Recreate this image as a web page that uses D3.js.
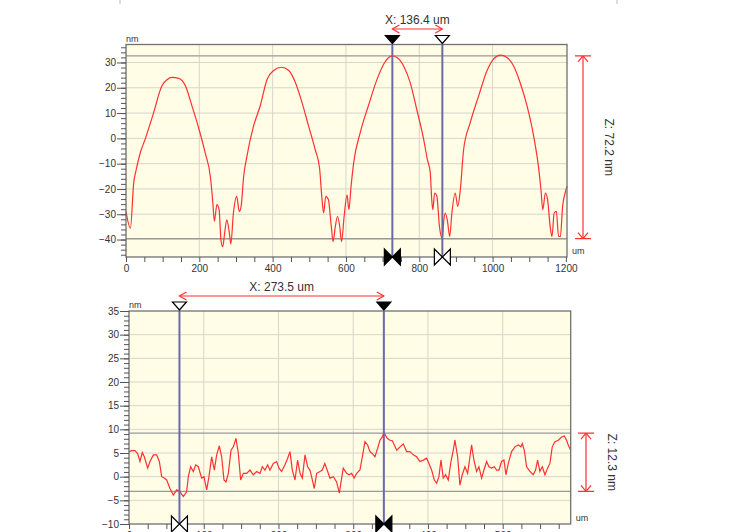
<!DOCTYPE html>
<html>
<head>
<meta charset="utf-8">
<script src="https://cdn.jsdelivr.net/npm/d3@7"></script>
<style>
  body { margin: 0; background: #fff; }
  svg { font-family: Arial, "Liberation Sans", sans-serif; }
  .axis path, .axis line { stroke: #555; }
  .axis text { fill: #333; font-size: 10px; }
</style>
</head>
<body>
<div id="chart"></div>
<script>
// top profile (um, nm)
var topX = [0, 12, 21, 28, 39, 53, 75, 98, 112, 125, 144, 162, 180, 198, 216, 230, 237, 241, 248, 254,
  259, 264, 269, 275, 282, 286, 293, 302, 309, 314, 321, 330, 348, 366, 385, 403, 424, 444, 462, 480,
  498, 516, 528, 534, 539, 545, 552, 560, 565, 571, 577, 583, 588, 595, 603, 608, 614, 621, 639, 661,
  685, 706, 726, 739, 757, 775, 793, 812, 822, 830, 834, 837, 842, 848, 855, 863, 867, 871, 877, 883,
  889, 898, 905, 912, 921, 939, 962, 985, 1003, 1021, 1039, 1057, 1075, 1094, 1112, 1125, 1132, 1137, 1144, 1150,
  1157, 1162, 1168, 1174, 1180, 1185, 1191, 1198, 1203];
var topZ = [-28.9, -35.5, -17.6, -12.3, -5.7, 0, 10, 20.8, 23.2, 24.1, 23.7, 20.8, 12.8, 4.2, -5.7, -15, -25.6, -32.8, -26.2, -28.2,
  -40.1, -42.8, -37.5, -32.2, -37.5, -41.7, -29.5, -22.9, -28.9, -26.9, -15, -7, 4.9, 12.8, 23.4, 26.8, 28.1, 26.8, 22.1, 14.2,
  4.9, -4.4, -11.7, -22.9, -29.5, -22.9, -24.2, -34.8, -40.8, -34.8, -30.9, -34.8, -40.8, -30.9, -22.3, -28.2, -18.9, -9.7, 2.3, 12.8,
  23.4, 30.1, 32.6, 32, 28.7, 22.1, 11.5, -0.4, -8.3, -13.6, -24.2, -28.2, -21.6, -22.9, -34.8, -39.6, -32.2, -29.5, -32.8, -38.8,
  -29.5, -21.6, -26.9, -20.3, -4.4, 6.2, 16.8, 26.8, 31.4, 32.9, 32, 28.7, 22.1, 12.8, 0.9, -11, -20.3, -28.2, -21.6, -24.2,
  -34.8, -38.8, -29.5, -28.9, -38.8, -38.8, -26.9, -21.6, -18.9];

// bottom profile (um, nm)
var botX = [0, 3.6, 8.0, 11.6, 14.7, 17.8, 20.5, 25.0, 28.1, 32.6, 37.0, 40.6, 43.7, 47.3, 50.4, 54.8, 59.3, 63.8, 68.2, 72.7,
  77.1, 79.4, 82.5, 86.1, 89.2, 92.8, 97.2, 100.3, 103.9, 107.0, 110.6, 114.2, 117.3, 120.8, 124.0, 127.1, 129.8, 132.9, 136.5, 139.6,
  143.1, 146.3, 149.4, 153.0, 157.4, 161.9, 166.3, 170.8, 175.3, 178.4, 181.9, 185.5, 188.6, 193.1, 197.5, 200.7, 204.2, 208.7, 212.3, 215.4,
  218.5, 222.1, 225.6, 228.8, 231.9, 235.5, 239.0, 242.1, 245.3, 247.9, 251.1, 255.5, 258.6, 262.0, 265.8, 268.9, 273.4, 277.8, 281.4, 284.5,
  286.7, 291.2, 294.3, 297.9, 301.4, 304.6, 309.0, 312.2, 315.7, 319.3, 322.4, 325.5, 329.1, 332.7, 335.8, 338.9, 341.0, 345.6, 349.2, 352.3,
  355.0, 358.2, 362.6, 367.0, 371.5, 375.9, 380.4, 384.8, 389.3, 393.8, 398.2, 401.3, 404.9, 408.5, 411.6, 414.7, 417.4, 420.5, 423.6, 427.2,
  430.8, 433.9, 436.1, 439.7, 442.8, 445.9, 449.5, 453.1, 456.2, 458.4, 461.5, 465.1, 468.2, 471.8, 474.9, 478.5, 481.6, 485.2, 488.7, 491.9,
  495.0, 498.5, 501.7, 504.3, 507.5, 511.9, 516.4, 520.8, 524.4, 526.2, 528.9, 532.0, 536.5, 540.9, 544.0, 546.7, 549.8, 553.0, 556.5, 560.1,
  563.2, 566.3, 569.9, 574.4, 578.8, 582.4, 585.5, 587.7, 591];
var botZ = [5.3, 5.5, 5.5, 4.9, 3.2, 5.1, 4.2, 1.8, 3.2, 4.6, 4.6, 3.2, 0, -0.3, -0.7, -2.5, -3.9, -2.8, -3.2, -4.2,
  -3.2, 0, 2.1, 1.1, 2.5, 2.1, -0.3, 0, -2.8, 0, 4.2, 1.4, 4.6, 6.5, 4.2, -0.7, -1.1, 0.7, 5.6, 6.3,
  8.1, 4.9, -0.7, 0.7, 0.7, 1.4, 0.4, 1.1, 0.7, 2.1, 1.4, 2.5, 1.4, 2.8, 3.2, 1.8, 1.1, 2.5, 3.9, 5.3,
  1.4, -0.7, 3.5, 0.7, -0.3, 4.6, 2.1, 1.4, -0.7, -2.5, 0.7, 1.1, 1.4, 2.8, 1.1, -0.3, 0, -1.1, -3.5, -0.3,
  1.8, 0.7, 0.4, 0.7, -0.3, 0.7, 1.4, 4.2, 7.4, 6.7, 5.3, 4.9, 4.2, 6.0, 7.7, 8.4, 9.3, 8.1, 7.7, 7.6,
  6.7, 5.6, 6.3, 6.9, 5.3, 5.3, 4.6, 4.2, 3.2, 3.5, 3.9, 2.8, 1.4, -0.7, -1.4, 0, 3.5, -0.3, 0.4, -0.7,
  3.2, 5.6, 7.7, 4.2, -1.8, 0.4, 2.1, 0.7, 4.2, 6.7, 3.5, 1.1, 2.1, -0.3, 1.4, 3.2, 2.1, 1.8, 2.1, 1.4,
  1.4, 3.2, 3.5, 0.4, 2.8, 5.3, 6.3, 6.7, 6.3, 7.0, 5.6, 2.1, 1.1, 0.4, 1.4, 3.5, 1.1, 2.1, 0.4, 1.8,
  2.8, 6.3, 7.4, 7.7, 8.4, 8.6, 7.7, 6.7, 5.6];

// cursors
var topCursorX = [726.6, 863];
var topCursorZ = [32.6, -39.6];
var topLabels = ["X: 136.4 um", "Z: 72.2 nm"];
var botCursorX = [67.5, 341];
var botCursorZ = [9.2, -3.1];
var botLabels = ["X: 273.5 um", "Z: 12.3 nm"];

var svg = d3.select("#chart").append("svg")
  .attr("width", 730)
  .attr("height", 532);

// faint frame marks at the top
svg.append("line").attr("x1", 120).attr("x2", 120).attr("y1", 0).attr("y2", 4).attr("stroke", "#bbb");
svg.append("line").attr("x1", 617).attr("x2", 617).attr("y1", 0).attr("y2", 4).attr("stroke", "#bbb");

// draw one profile panel
function panel(opt) {
  var x = opt.x, y = opt.y;
  var x0 = x.range()[0], x1 = x.range()[1];
  var yb = y.range()[0], yt = y.range()[1];
  var g = svg.append("g");

  // plot background
  g.append("rect")
    .attr("x", x0).attr("y", yt)
    .attr("width", x1 - x0).attr("height", yb - yt)
    .attr("fill", "#fffde6");

  // grid
  g.selectAll(".vgrid").data(opt.xGrid).enter().append("line")
    .attr("x1", x).attr("x2", x)
    .attr("y1", yt).attr("y2", yb)
    .attr("stroke", "#d6d6cc").attr("stroke-width", 1);
  g.selectAll(".hgrid").data(opt.yGrid).enter().append("line")
    .attr("x1", x0).attr("x2", x1)
    .attr("y1", y).attr("y2", y)
    .attr("stroke", "#d6d6cc").attr("stroke-width", 1);

  // horizontal cursor lines
  opt.cz.forEach(function (v) {
    g.append("line")
      .attr("x1", x0).attr("x2", x1)
      .attr("y1", y(v)).attr("y2", y(v))
      .attr("stroke", "#999").attr("stroke-width", 1.2);
  });

  // profile line
  g.append("path")
    .datum(opt.px.map(function (d, i) { return [d, opt.pz[i]]; }))
    .attr("fill", "none")
    .attr("stroke", "#ff3030")
    .attr("stroke-width", 1.2)
    .attr("d", d3.line()
      .x(function (d) { return x(d[0]); })
      .y(function (d) { return y(d[1]); })
      .curve(opt.curve));

  // frame
  g.append("rect")
    .attr("x", x0).attr("y", yt)
    .attr("width", x1 - x0).attr("height", yb - yt)
    .attr("fill", "none").attr("stroke", "#707070").attr("stroke-width", 1.3);

  // y axis: minor + major ticks
  g.append("g").attr("class", "axis")
    .attr("transform", "translate(" + x0 + ",0)")
    .call(d3.axisLeft(y).tickValues(opt.yMinor).tickSize(5).tickFormat(""))
    .select(".domain").remove();
  g.append("g").attr("class", "axis")
    .attr("transform", "translate(" + x0 + ",0)")
    .call(d3.axisLeft(y).tickValues(opt.yMajor).tickSize(9).tickPadding(1))
    .select(".domain").remove();

  // x axis
  g.append("g").attr("class", "axis")
    .attr("transform", "translate(0," + yb + ")")
    .call(d3.axisBottom(x).tickValues(opt.xTicks).tickSize(5).tickPadding(3)
      .tickFormat(function (d) { return d % opt.xLabelStep === 0 ? d : ""; }))
    .select(".domain").remove();

  // unit labels
  g.append("text").attr("x", x0).attr("y", yt - 3)
    .attr("font-size", 9).attr("fill", "#333").text("nm");
  g.append("text").attr("x", x1 + 5).attr("y", yb - 3)
    .attr("font-size", 9).attr("fill", "#333").text("um");

  // vertical cursors
  opt.cx.forEach(function (v, i) {
    var cx = x(v), filled = opt.filled[i];
    g.append("line")
      .attr("x1", cx).attr("x2", cx)
      .attr("y1", yt).attr("y2", yb)
      .attr("stroke", "#6a6aa8").attr("stroke-width", 2);
    // triangle above the plot
    g.append("path")
      .attr("d", "M" + (cx - 7) + "," + (yt - 9) + "L" + (cx + 7) + "," + (yt - 9) + "L" + cx + "," + (yt - 1) + "Z")
      .attr("fill", filled ? "#000" : "#fff")
      .attr("stroke", "#000").attr("stroke-width", 1.2);
    // bowtie on the x axis
    g.append("path")
      .attr("d", "M" + (cx - 8) + "," + (yb - 8) + "L" + (cx - 8) + "," + (yb + 8) + "L" + cx + "," + yb + "Z" +
                 "M" + (cx + 8) + "," + (yb - 8) + "L" + (cx + 8) + "," + (yb + 8) + "L" + cx + "," + yb + "Z")
      .attr("fill", filled ? "#000" : "#fff")
      .attr("stroke", "#000").attr("stroke-width", 1.2);
  });

  // X distance arrow
  var ax0 = x(opt.cx[0]), ax1 = x(opt.cx[1]), ay = opt.arrowY;
  g.append("line").attr("x1", ax0).attr("x2", ax1).attr("y1", ay).attr("y2", ay)
    .attr("stroke", "#ff3030").attr("stroke-width", 1.2);
  g.append("path")
    .attr("d", "M" + (ax0 + 7) + "," + (ay - 4) + "L" + ax0 + "," + ay + "L" + (ax0 + 7) + "," + (ay + 4) +
               "M" + (ax1 - 7) + "," + (ay - 4) + "L" + ax1 + "," + ay + "L" + (ax1 - 7) + "," + (ay + 4))
    .attr("fill", "none").attr("stroke", "#ff3030").attr("stroke-width", 1.2);
  g.append("text")
    .attr("x", (ax0 + ax1) / 2).attr("y", ay - 5)
    .attr("text-anchor", "middle").attr("font-size", 12).attr("fill", "#333")
    .text(opt.labels[0]);

  // Z height arrow
  var zx = opt.zArrowX, zy0 = y(opt.cz[0]), zy1 = y(opt.cz[1]);
  g.append("line").attr("x1", zx).attr("x2", zx).attr("y1", zy0).attr("y2", zy1)
    .attr("stroke", "#ff3030").attr("stroke-width", 1.2);
  g.append("path")
    .attr("d", "M" + (zx - 8) + "," + zy0 + "L" + (zx + 8) + "," + zy0 +
               "M" + (zx - 5) + "," + (zy0 + 6) + "L" + zx + "," + zy0 + "L" + (zx + 5) + "," + (zy0 + 6) +
               "M" + (zx - 8) + "," + zy1 + "L" + (zx + 8) + "," + zy1 +
               "M" + (zx - 5) + "," + (zy1 - 6) + "L" + zx + "," + zy1 + "L" + (zx + 5) + "," + (zy1 - 6))
    .attr("fill", "none").attr("stroke", "#ff3030").attr("stroke-width", 1.2);
  g.append("text")
    .attr("transform", "translate(" + (zx + 22) + "," + ((zy0 + zy1) / 2) + ") rotate(90)")
    .attr("text-anchor", "middle").attr("font-size", 12).attr("fill", "#333")
    .text(opt.labels[1]);
}

panel({
  x: d3.scaleLinear().domain([0, 1203]).range([126, 567]),
  y: d3.scaleLinear().domain([-46.9, 37.1]).range([257, 44.5]),
  xGrid: d3.range(200, 1200, 200),
  yGrid: d3.range(-40, 40, 10),
  yMinor: d3.range(-46, 37, 2),
  yMajor: d3.range(-40, 40, 10),
  xTicks: d3.range(0, 1201, 50),
  xLabelStep: 200,
  px: topX, pz: topZ,
  curve: d3.curveMonotoneX,
  cx: topCursorX, cz: topCursorZ, filled: [true, false],
  arrowY: 29, zArrowX: 583,
  labels: topLabels
});

panel({
  x: d3.scaleLinear().domain([0, 591]).range([129, 570.7]),
  y: d3.scaleLinear().domain([-10, 35]).range([524, 311]),
  xGrid: d3.range(100, 591, 100),
  yGrid: d3.range(-5, 35, 5),
  yMinor: d3.range(-10, 36, 1),
  yMajor: d3.range(-10, 36, 5),
  xTicks: d3.range(0, 591, 25),
  xLabelStep: 100,
  px: botX, pz: botZ,
  curve: d3.curveLinear,
  cx: botCursorX, cz: botCursorZ, filled: [false, true],
  arrowY: 296, zArrowX: 586,
  labels: botLabels
});
</script>
</body>
</html>
